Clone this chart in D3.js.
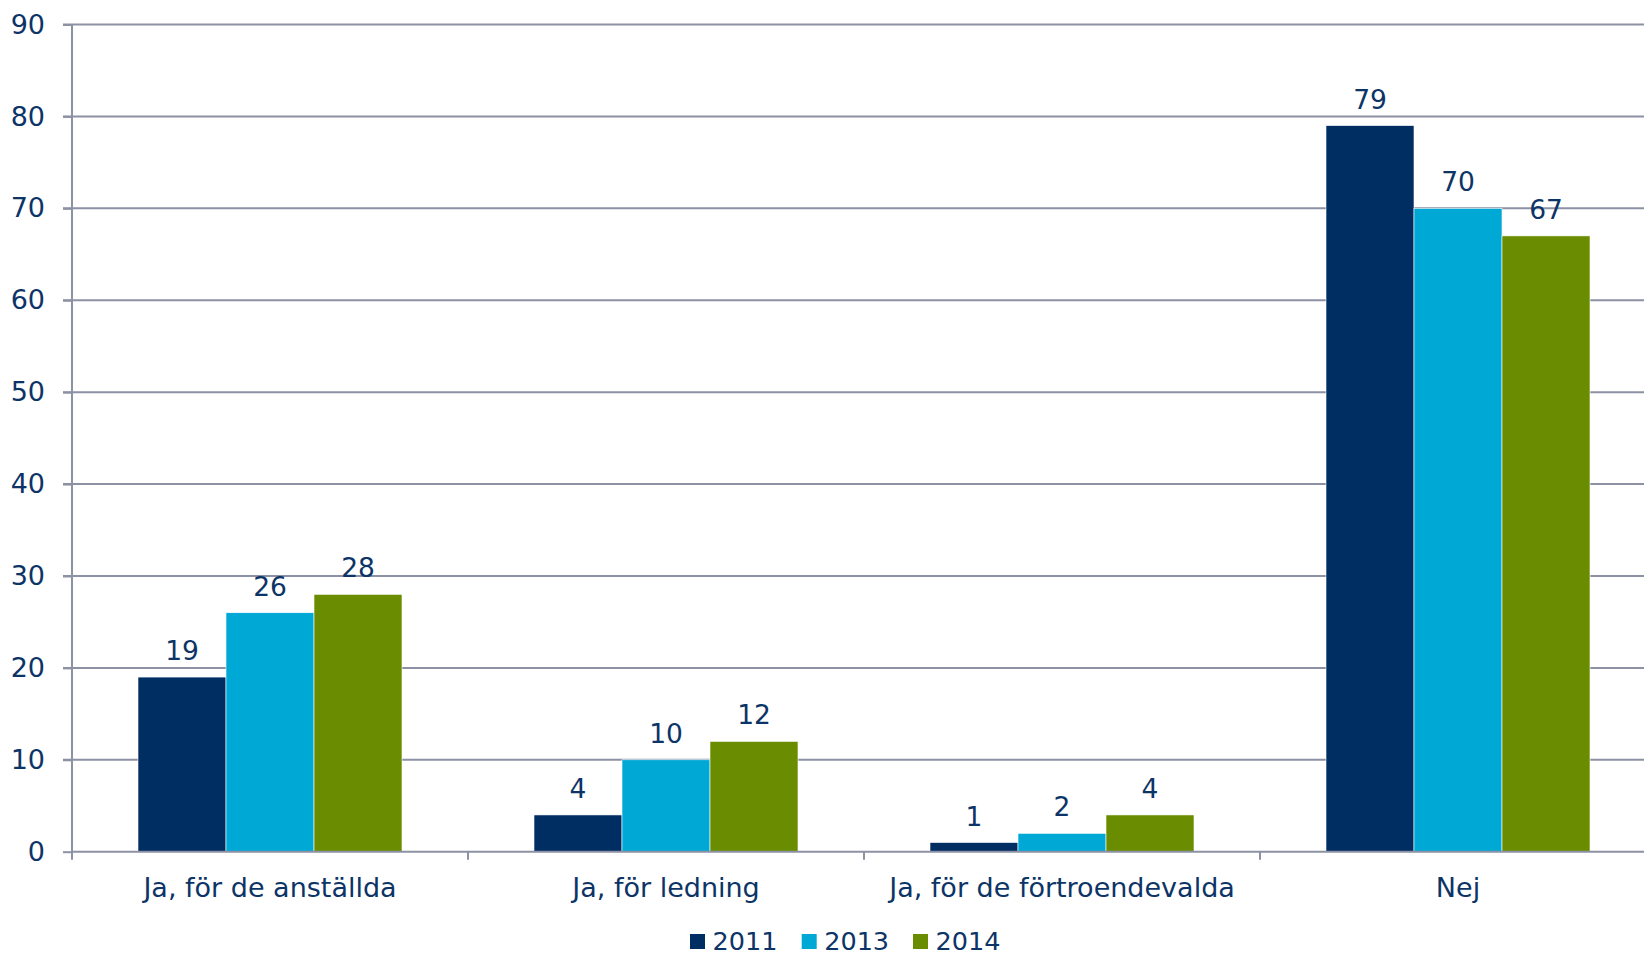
<!DOCTYPE html>
<html><head><meta charset="utf-8">
<script src="https://cdn.jsdelivr.net/npm/d3@7"></script>
<style>
html,body{margin:0;padding:0;background:#fff;overflow:hidden}
text{font-family:"DejaVu Sans",Verdana,sans-serif;fill:#0d3466}
</style></head>
<body>
<svg id="c" width="1644" height="955"></svg>
<script>
const categories = ["Ja, för de anställda", "Ja, för ledning", "Ja, för de förtroendevalda", "Nej"];
const seriesNames = ["2011", "2013", "2014"];
const values2011 = [19, 4, 1, 79];
const values2013 = [26, 10, 2, 70];
const values2014 = [28, 12, 4, 67];
const yTicks = [0, 10, 20, 30, 40, 50, 60, 70, 80, 90];
const colors = ["#002d62", "#00a8d6", "#6a8c00"];

(function () {
const seriesValues = [values2011, values2013, values2014];
const svg = d3.select("#c");
const mLeft = 72, mRight = 1656, mTop = 24.5, mBottom = 851.7;
const gridColor = "#8c91a3";
const ff = '"DejaVu Sans",Verdana,sans-serif';

const y = d3.scaleLinear().domain([0, 90]).range([mBottom, mTop]);
const x0 = d3.scaleBand().domain(categories).range([mLeft, mRight]).paddingInner(0).paddingOuter(0);
const x1 = d3.scaleBand().domain(seriesNames).range([0, x0.bandwidth()]).paddingInner(0).paddingOuter(0.75);
const color = d3.scaleOrdinal().domain(seriesNames).range(colors);

// gridlines
svg.append("g").selectAll("line").data(yTicks.filter(d => d > 0)).join("line")
  .attr("x1", 63).attr("x2", 1644)
  .attr("y1", d => y(d)).attr("y2", d => y(d))
  .attr("stroke", gridColor).attr("stroke-width", 2);

// bars
const groups = svg.append("g").selectAll("g").data(categories).join("g")
  .attr("transform", d => `translate(${x0(d)},0)`);
const rows = (c, i) => seriesNames.map((s, j) => ({s, v: seriesValues[j][i]}));
groups.selectAll("rect").data(rows).join("rect")
  .attr("x", d => x1(d.s)).attr("width", x1.bandwidth())
  .attr("y", d => y(d.v)).attr("height", d => y(0) - y(d.v))
  .attr("fill", d => color(d.s)).attr("stroke", "#fff").attr("stroke-width", 0.6);
groups.selectAll("text").data(rows).join("text")
  .attr("x", d => x1(d.s) + x1.bandwidth() / 2).attr("y", d => y(d.v) - 17)
  .attr("text-anchor", "middle").attr("font-size", 26.5).text(d => d.v);

// y axis
const yAxis = d3.axisLeft(y).tickValues(yTicks).tickSize(9).tickPadding(18);
const gy = svg.append("g").attr("transform", `translate(${mLeft},0)`).call(yAxis);
gy.select(".domain").remove();
gy.selectAll(".tick line").attr("stroke", gridColor).attr("stroke-width", 2);
gy.selectAll(".tick text").attr("font-size", 27).attr("fill", "#0d3466").style("font-family", ff);
svg.append("line").attr("x1", mLeft).attr("x2", mLeft).attr("y1", mTop).attr("y2", mBottom + 8)
  .attr("stroke", gridColor).attr("stroke-width", 2);

// x axis
const xAxis = d3.axisBottom(x0).tickSize(0).tickPadding(0);
const gx = svg.append("g").attr("transform", `translate(0,${mBottom})`).call(xAxis);
gx.select(".domain").remove();
gx.selectAll(".tick text").attr("font-size", 27).attr("fill", "#0d3466").attr("dy", 0).attr("y", 45)
  .style("font-family", ff);
svg.append("line").attr("x1", mLeft).attr("x2", 1644).attr("y1", mBottom).attr("y2", mBottom)
  .attr("stroke", gridColor).attr("stroke-width", 2);
svg.append("g").selectAll("line").data(categories.slice(1)).join("line")
  .attr("x1", d => x0(d)).attr("x2", d => x0(d)).attr("y1", mBottom).attr("y2", mBottom + 8)
  .attr("stroke", gridColor).attr("stroke-width", 2);

// legend
const legendX = [690, 801.7, 913];
const lg = svg.append("g").selectAll("g").data(seriesNames).join("g")
  .attr("transform", (d, i) => `translate(${legendX[i]},934)`);
lg.append("rect").attr("width", 15).attr("height", 15).attr("fill", d => color(d));
lg.append("text").attr("x", 22.5).attr("y", 16).attr("font-size", 25.5).text(d => d);
})();
</script>
</body></html>
